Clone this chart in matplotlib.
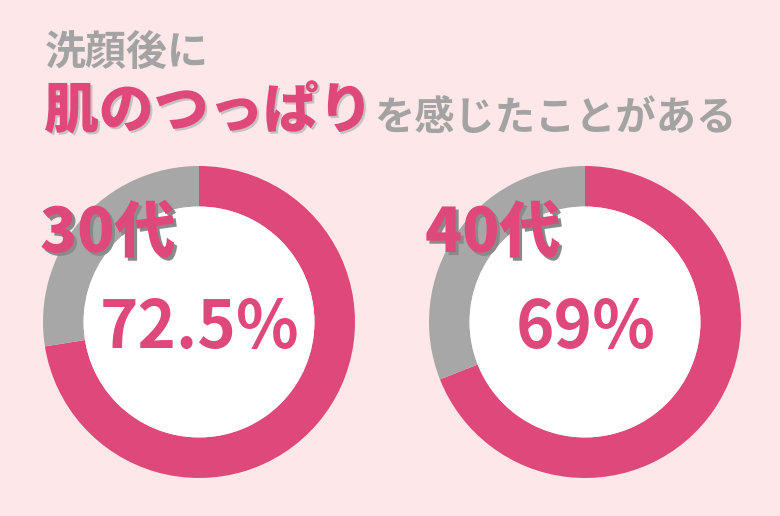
import matplotlib
matplotlib.use("Agg")
import matplotlib.pyplot as plt
import matplotlib.patheffects as pe
from matplotlib.patches import Circle

plt.rcParams['font.family'] = ['Noto Sans CJK JP', 'DejaVu Sans']

# data
groups = ["30代", "40代"]
yes_pct = [72.5, 69]
pct_labels = ["72.5%", "69%"]
title_top = "洗顔後に"
title_key = "肌のつっぱり"
title_rest = "を感じたことがある"

PINK = "#df487a"
GRAY = "#a7a7a7"
BG = "#fde7e8"
W, H = 780, 516

fig = plt.figure(figsize=(W / 100, H / 100), dpi=100, facecolor=BG)

def fx(x):
    return x / W

def fy(y):
    return 1 - y / H

# donut centres / radius in pixels
centers = [(199, 322), (585, 322)]
radius = 156

for i in range(2):
    cx, cy = centers[i]
    ax = fig.add_axes([fx(cx - radius), fy(cy + radius), 2 * radius / W, 2 * radius / H])
    ax.pie([yes_pct[i], 100 - yes_pct[i]], colors=[PINK, GRAY], startangle=90,
           counterclock=False, radius=1, wedgeprops=dict(width=0.26, linewidth=0))
    ax.add_patch(Circle((0, 0), 0.74, facecolor="white", edgecolor="none"))
    ax.set_xlim(-1, 1)
    ax.set_ylim(-1, 1)
    ax.set_aspect("equal")
    ax.axis("off")

    fig.text(fx(cx + 1), fy(348), pct_labels[i], color=PINK, fontsize=47,
             fontweight="bold", ha="center", va="baseline")

label_x = [40, 425]
for i in range(2):
    fig.text(fx(label_x[i]), fy(252), groups[i], color=PINK, fontsize=44,
             fontweight="heavy", ha="left", va="baseline",
             path_effects=[pe.SimplePatchShadow(offset=(2.2, -2.2), shadow_rgbFace="#8a8a8a", alpha=1),
                           pe.Normal()])

# title
fig.text(fx(45), fy(65), title_top, color="#a3a3a3", fontsize=29.5,
         fontweight="bold", ha="left", va="baseline")
fig.text(fx(44), fy(128), title_key, color=PINK, fontsize=39.5,
         fontweight="heavy", ha="left", va="baseline",
         path_effects=[pe.SimplePatchShadow(offset=(1.5, -1.5), shadow_rgbFace="#c9c0c1", alpha=1),
                       pe.Normal()])
fig.text(fx(374), fy(130), title_rest, color="#a3a3a3", fontsize=29,
         fontweight="bold", ha="left", va="baseline")

fig.savefig("out.png", dpi=100, facecolor=BG)
